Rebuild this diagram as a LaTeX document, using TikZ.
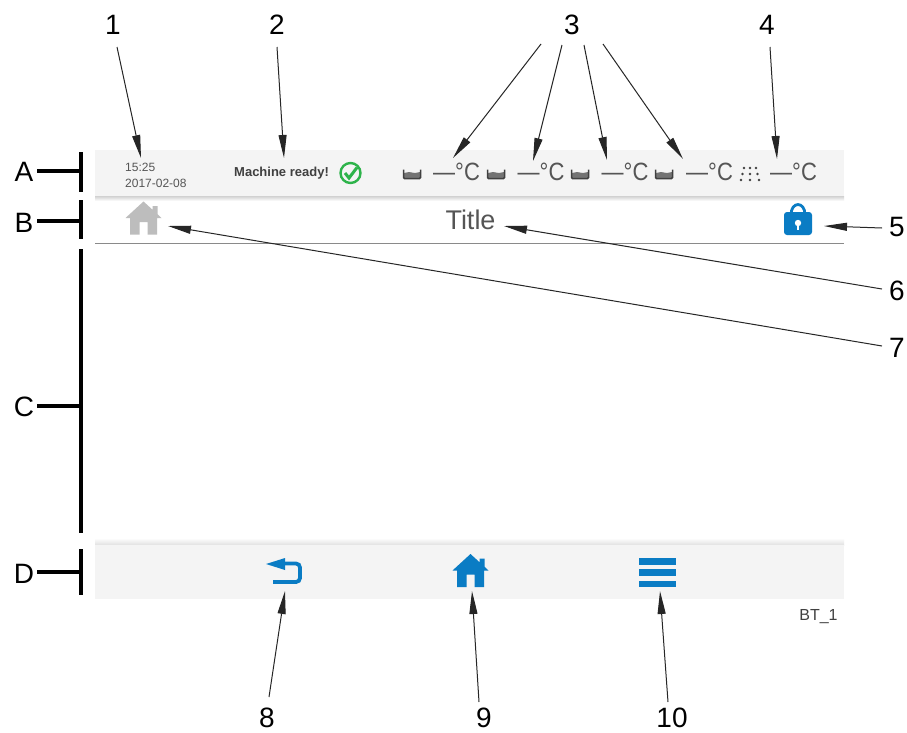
\documentclass[tikz,border=0pt]{standalone}
\usepackage{fontspec}
\setmainfont{Liberation Sans}
\newfontfamily\tempfont[FakeStretch=0.88]{Liberation Sans}
\usetikzlibrary{arrows.meta}
\definecolor{barbg}{HTML}{F4F4F4}
\definecolor{uiblue}{HTML}{0A7CC4}
\definecolor{uigray}{HTML}{BDBDBD}
\definecolor{uitext}{HTML}{555555}
\definecolor{uigreen}{HTML}{2DB34A}
\definecolor{sep}{HTML}{8A8A8A}
\tikzset{
 callout/.style={font=\fontsize{28}{28}\selectfont, inner sep=0pt, anchor=center},
 ptr/.style={draw=black!85, line width=1pt, -{Triangle[length=23pt,width=8pt]}},
 bracket/.style={line width=4.2pt, black, line cap=butt},
 temp/.style={font=\tempfont\fontsize{25}{25}\selectfont, text=uitext, inner sep=0pt, anchor=west},
 tiny/.style={font=\fontsize{12}{16}\selectfont, text=uitext, inner sep=0pt, align=left, anchor=west},
}
\newcommand{\homeicon}[2]{%
 \fill[#2,shift={(#1)}] (0,-16.5) -- (9,-8.3) -- (9,-12) -- (14,-12) -- (14,-4) -- (18,0) -- (13.5,0) -- (13.5,16.5) -- (4,16.5) -- (4,4) -- (-4,4) -- (-4,16.5) -- (-13.5,16.5) -- (-13.5,0) -- (-18,0) -- cycle;}
\newcommand{\tubicon}[1]{%
 \begin{scope}[shift={(#1)}]
  \fill[black!55] (-8,-1) -- (-3,-2) -- (3,-1) -- (8,-2) -- (8,4) -- (-8,4) -- cycle;
  \draw[black!75,line width=1.5pt,rounded corners=1pt] (-8.5,-4.5) -- (-8.5,4.5) -- (8.5,4.5) -- (8.5,-4.5);
 \end{scope}}
\begin{document}
\begin{tikzpicture}[x=1pt,y=-1pt]
\useasboundingbox (0,0) rectangle (907,732);
\fill[white] (0,0) rectangle (907,732);
% bars
\fill[barbg] (95,150) rectangle (844,196);
\shade[top color=black!18,bottom color=white] (95,196) rectangle (844,201);
\draw[sep,line width=1pt] (95,243.5) -- (844,243.5);
\shade[top color=white,bottom color=black!12] (95,538) rectangle (844,545);
\fill[barbg] (95,545) rectangle (844,599);
% status bar content
\node[tiny] (clock) at (125,175) {15:25\\2017-02-08};
\node[tiny,font=\fontsize{13}{13}\selectfont\bfseries,text=black!75] (ready) at (234,173) {Machine ready!};
\draw[uigreen,line width=2.4pt] (350.5,173) circle (10);
\draw[uigreen,line width=3pt] (345,173) -- (349,178) -- (357,167.5);
\tubicon{412,174}
\tubicon{496,174}
\tubicon{580,174}
\tubicon{664,174}
\node[temp] (t1) at (433,171.5) {—°C};
\node[temp] (t2) at (517.5,171.5) {—°C};
\node[temp] (t3) at (601.5,171.5) {—°C};
\node[temp] (t4) at (686,171.5) {—°C};
\node[temp] (t5) at (770,171.5) {—°C};
\foreach \p in {(744,168),(750,168),(756,168),(742.5,174),(750,174),(757.5,174),(741,180),(750,180),(759,180)}
 \fill[black!75] \p circle (1.4);
% title row
\homeicon{143.5,218}{uigray}
\node[font=\fontsize{27}{27}\selectfont,text=uitext,inner sep=0pt] (title) at (470.5,220) {Title};
\begin{scope}[shift={(798,225)}]
 \draw[uiblue,line width=2.8pt] (-7,-10) .. controls (-7,-24) and (7,-24) .. (7,-10);
 \fill[uiblue,rounded corners=3pt] (-14,-13) rectangle (14,10);
 \fill[white] (0,-2) circle (3.2);
 \fill[white] (-1.3,-2) rectangle (1.3,5);
\end{scope}
% bottom bar icons
\begin{scope}[shift={(285,572)}]
 \fill[uiblue] (-19,-8) -- (0,-14) -- (0,-2) -- cycle;
 \draw[uiblue,line width=3.8pt,rounded corners=4pt] (-1,-8.5) -- (15,-8.5) -- (15,10) -- (-12,10);
\end{scope}
\homeicon{470.5,570.5}{uiblue}
\fill[uiblue] (639,558) rectangle (676,564.5);
\fill[uiblue] (639,569) rectangle (676,575.5);
\fill[uiblue] (639,581) rectangle (676,587);
\node[font=\fontsize{16}{16}\selectfont,text=black!75,inner sep=0pt] (code) at (818.5,617) {BT\_1};
% section brackets
\node[callout] (A) at (24,172) {A};
\node[callout] (B) at (24,223) {B};
\node[callout] (C) at (24,407) {C};
\node[callout] (D) at (24,574) {D};
\coordinate (Ab) at (81,171); \coordinate (Bb) at (81,221); \coordinate (Cb) at (81,406); \coordinate (Db) at (81,572);
\draw[bracket] (81,152) -- (81,192);
\draw[bracket] (81,200) -- (81,239);
\draw[bracket] (81,249) -- (81,533);
\draw[bracket] (81,549) -- (81,595);
\draw[bracket] (37,171) -- (Ab);
\draw[bracket] (37,221) -- (Bb);
\draw[bracket] (37,406) -- (Cb);
\draw[bracket] (37,572) -- (Db);
% callouts
\node[callout] (n1) at (113,24.5) {1};
\node[callout] (n2) at (277,24.5) {2};
\node[callout] (n3) at (572,24.5) {3};
\node[callout] (n4) at (767,24.5) {4};
\node[callout] (n5) at (897,227) {5};
\node[callout] (n6) at (897,291) {6};
\node[callout] (n7) at (897,348) {7};
\node[callout] (n8) at (267,717.5) {8};
\node[callout] (n9) at (484,717.5) {9};
\node[callout] (n10) at (672,717.5) {10};
\coordinate (p1) at (141,158);
\coordinate (p2) at (284,158);
\coordinate (p3a) at (453,158);
\coordinate (p3b) at (533,161);
\coordinate (p3c) at (607,160);
\coordinate (p3d) at (683,159);
\coordinate (p4) at (777,159);
\coordinate (p5) at (824,226);
\coordinate (p6) at (504,226);
\coordinate (p7) at (168,226);
\coordinate (p8) at (285,591);
\coordinate (p9) at (472,591);
\coordinate (p10) at (660,591);
\draw[ptr] (117,47) -- (p1);
\draw[ptr] (277,47) -- (p2);
\draw[ptr] (541,44) -- (p3a);
\draw[ptr] (562,45) -- (p3b);
\draw[ptr] (584,45) -- (p3c);
\draw[ptr] (603,44) -- (p3d);
\draw[ptr] (770,47) -- (p4);
\draw[ptr] (882,228) -- (p5);
\draw[ptr] (882,289) -- (p6);
\draw[ptr] (882,346) -- (p7);
\draw[ptr] (269,697) -- (p8);
\draw[ptr] (479,702) -- (p9);
\draw[ptr] (668,702) -- (p10);
\end{tikzpicture}
\end{document}
